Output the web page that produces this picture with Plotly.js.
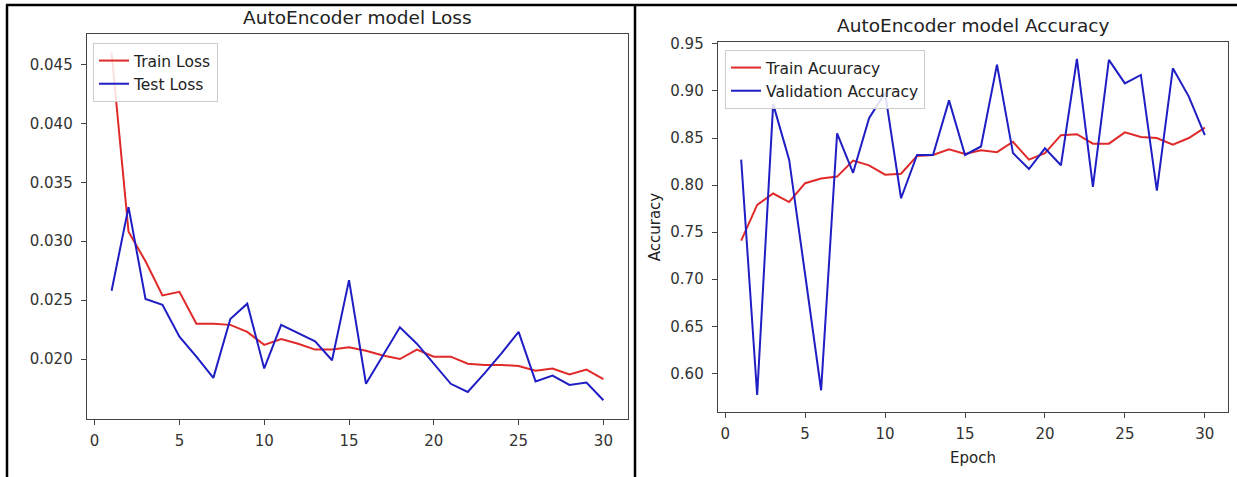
<!DOCTYPE html>
<html>
<head>
<meta charset="utf-8">
<script src="https://cdn.plot.ly/plotly-3.0.1.min.js"></script>
<style>html,body{margin:0;padding:0;background:#fff;}#chart{width:1237px;height:477px;}</style>
</head>
<body>
<div id="chart"></div>
<script>
const epochs = Array.from({length: 30}, (_, i) => i + 1);

const trainLoss = [0.0460, 0.0308, 0.0283, 0.0254, 0.0257, 0.0230, 0.0230, 0.0229, 0.0223, 0.0212,
                   0.0217, 0.0213, 0.0208, 0.0208, 0.0210, 0.0207, 0.0203, 0.0200, 0.0208, 0.0202,
                   0.0202, 0.0196, 0.0195, 0.0195, 0.0194, 0.0190, 0.0192, 0.0187, 0.0191, 0.0183];
const testLoss  = [0.0258, 0.0329, 0.0251, 0.0246, 0.0219, 0.0202, 0.0184, 0.0234, 0.0247, 0.0192,
                   0.0229, 0.0222, 0.0215, 0.0199, 0.0267, 0.0179, 0.0203, 0.0227, 0.0213, 0.0196,
                   0.0179, 0.0172, 0.0188, 0.0205, 0.0223, 0.0181, 0.0186, 0.0178, 0.0180, 0.0165];

const trainAcc = [0.741, 0.779, 0.791, 0.782, 0.802, 0.807, 0.809, 0.826, 0.821, 0.811,
                  0.812, 0.831, 0.832, 0.838, 0.833, 0.837, 0.835, 0.846, 0.827, 0.834,
                  0.853, 0.854, 0.844, 0.844, 0.856, 0.851, 0.850, 0.843, 0.850, 0.861];
const valAcc   = [0.827, 0.577, 0.886, 0.827, 0.705, 0.582, 0.855, 0.813, 0.871, 0.898,
                  0.786, 0.832, 0.832, 0.890, 0.832, 0.841, 0.928, 0.834, 0.817, 0.839,
                  0.821, 0.934, 0.798, 0.933, 0.908, 0.917, 0.794, 0.924, 0.894, 0.853];

const lossTicks = [0.020, 0.025, 0.030, 0.035, 0.040, 0.045];
const accTicks = [0.60, 0.65, 0.70, 0.75, 0.80, 0.85, 0.90, 0.95];
const epochTicks = [0, 5, 10, 15, 20, 25, 30];

const W = 1237, H = 477;
const px = v => v / W;
const py = v => (H - v) / H;
const FONT = 'DejaVu Sans, sans-serif';
const RED = '#e02a2a', BLUE = '#1e1ec4';

const traces = [
  {x: epochs, y: trainLoss, name: 'Train Loss', type: 'scatter', mode: 'lines',
   line: {color: RED, width: 2}, xaxis: 'x', yaxis: 'y', legend: 'legend'},
  {x: epochs, y: testLoss, name: 'Test Loss', type: 'scatter', mode: 'lines',
   line: {color: BLUE, width: 2}, xaxis: 'x', yaxis: 'y', legend: 'legend'},
  {x: epochs, y: trainAcc, name: 'Train Acuuracy', type: 'scatter', mode: 'lines',
   line: {color: RED, width: 2}, xaxis: 'x2', yaxis: 'y2', legend: 'legend2'},
  {x: epochs, y: valAcc, name: 'Validation Accuracy', type: 'scatter', mode: 'lines',
   line: {color: BLUE, width: 2}, xaxis: 'x2', yaxis: 'y2', legend: 'legend2'}
];

const axisCommon = {
  showgrid: false, zeroline: false, showline: true, mirror: true,
  linecolor: '#444', linewidth: 1.3, ticks: 'outside', ticklen: 5, tickcolor: '#444',
  tickfont: {family: FONT, size: 15, color: '#333'}
};

const legendCommon = {
  xanchor: 'left', yanchor: 'top', bgcolor: 'rgba(255,255,255,0.85)',
  bordercolor: '#cccccc', borderwidth: 1,
  font: {family: FONT, size: 15.5, color: '#222'},
  tracegroupgap: 0, itemwidth: 30
};

const layout = {
  width: W, height: H,
  margin: {l: 0, r: 0, t: 0, b: 0},
  paper_bgcolor: '#fff', plot_bgcolor: '#fff',
  showlegend: true,
  xaxis: Object.assign({}, axisCommon, {domain: [px(87), px(628)], range: [-0.45, 31.45],
    tickvals: epochTicks, anchor: 'y', ticklabelstandoff: 3}),
  yaxis: Object.assign({}, axisCommon, {domain: [py(419), py(34)], range: [0.01491, 0.04759],
    tickvals: lossTicks, tickformat: '.3f', anchor: 'x', ticklabelstandoff: 5}),
  xaxis2: Object.assign({}, axisCommon, {domain: [px(718), px(1228)], range: [-0.45, 31.45],
    tickvals: epochTicks, anchor: 'y2', ticklabelstandoff: 3,
    title: {text: 'Epoch', font: {family: FONT, size: 15, color: '#222'}, standoff: 10}}),
  yaxis2: Object.assign({}, axisCommon, {domain: [py(412), py(42)], range: [0.5589, 0.952],
    tickvals: accTicks, tickformat: '.2f', anchor: 'x2', ticklabelstandoff: 5,
    title: {text: 'Accuracy', font: {family: FONT, size: 15, color: '#222'}, standoff: 6}}),
  legend: Object.assign({}, legendCommon, {x: px(93), y: py(43)}),
  legend2: Object.assign({}, legendCommon, {x: px(725), y: py(50)}),
  annotations: [
    {text: 'AutoEncoder model Loss', xref: 'paper', yref: 'paper', x: px(357.5), y: py(18),
     xanchor: 'center', yanchor: 'middle', showarrow: false,
     font: {family: FONT, size: 18.5, color: '#222'}},
    {text: 'AutoEncoder model Accuracy', xref: 'paper', yref: 'paper', x: px(973), y: py(25),
     xanchor: 'center', yanchor: 'middle', showarrow: false,
     font: {family: FONT, size: 18.5, color: '#222'}}
  ],
  shapes: [
    {type: 'line', xref: 'paper', yref: 'paper', x0: px(6), x1: 1, y0: py(5), y1: py(5),
     line: {color: '#000', width: 2.5}},
    {type: 'line', xref: 'paper', yref: 'paper', x0: px(7), x1: px(7), y0: py(5), y1: 0,
     line: {color: '#000', width: 2.5}},
    {type: 'line', xref: 'paper', yref: 'paper', x0: px(635), x1: px(635), y0: py(5), y1: 0,
     line: {color: '#000', width: 2.5}}
  ]
};

Plotly.newPlot('chart', traces, layout, {displayModeBar: false, staticPlot: true});
</script>
</body>
</html>
